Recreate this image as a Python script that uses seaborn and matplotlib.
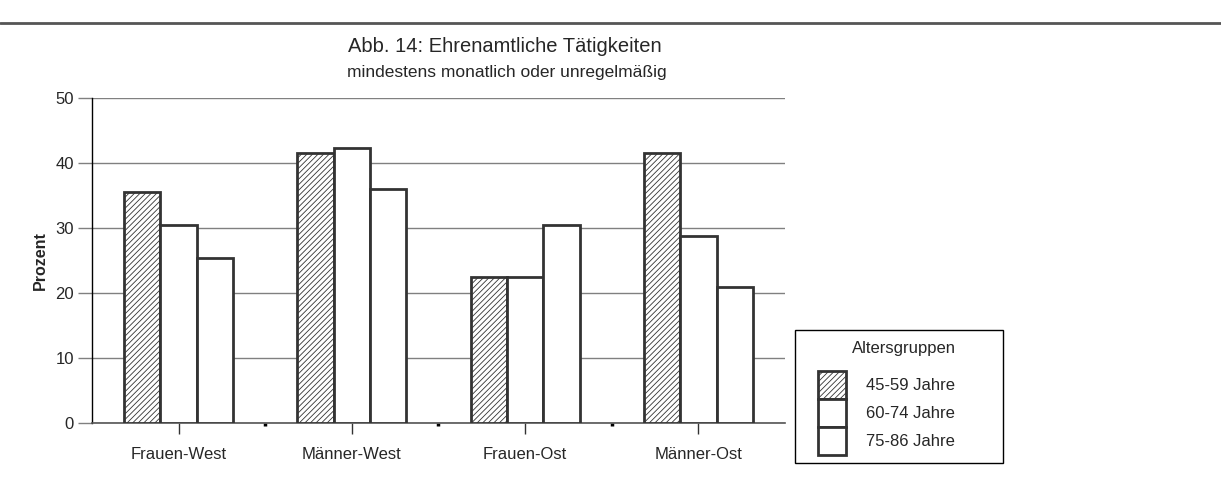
import pandas as pd
import numpy as np
import matplotlib
matplotlib.use("Agg")
import matplotlib.pyplot as plt
import seaborn as sns
from matplotlib.lines import Line2D

# ------------------ DATA ------------------
categories = ["Frauen-West", "Männer-West", "Frauen-Ost", "Männer-Ost"]
groups = ["45-59 Jahre", "60-74 Jahre", "75-86 Jahre"]
val_45_59 = [35.6, 41.6, 22.4, 41.6]
val_60_74 = [30.4, 42.3, 22.4, 28.8]
val_75_86 = [25.4, 36.0, 30.4, 20.9]

rows = []
for g, vals in zip(groups, [val_45_59, val_60_74, val_75_86]):
    for c, v in zip(categories, vals):
        rows.append([c, g, v])
df = pd.DataFrame(rows, columns=["gruppe", "alter", "prozent"])

# ------------------ STYLE ------------------
sns.set_style("white")
plt.rcParams["font.family"] = ["Liberation Sans", "DejaVu Sans"]
plt.rcParams["hatch.color"] = "#444444"
plt.rcParams["hatch.linewidth"] = 0.6

edge = "#333333"

fig = plt.figure(figsize=(12.21, 4.80), dpi=100)
ax = fig.add_axes([92 / 1221, 1 - 423 / 480, (785 - 92) / 1221, (423 - 98) / 480])

sns.barplot(data=df, x="gruppe", y="prozent", hue="alter", order=categories,
            hue_order=groups, palette=["white"] * 3, edgecolor=edge,
            linewidth=2, width=0.63, ax=ax, legend=False, zorder=3)

# hatch the first age group
n = len(categories)
for bar in ax.patches[:n]:
    bar.set_hatch("//////")

# ------------------ AXES ------------------
ax.set_ylim(0, 50)
ax.set_xlim(-0.5, n - 0.5)
ax.set_yticks([0, 10, 20, 30, 40, 50])
ax.yaxis.grid(True, color="#808080", linewidth=1)
ax.set_axisbelow(True)
for s in ["top", "right"]:
    ax.spines[s].set_visible(False)
ax.spines["bottom"].set_color("#555555")
ax.spines["bottom"].set_linewidth(1.2)
ax.spines["left"].set_color("black")
ax.spines["left"].set_linewidth(1)
ax.tick_params(axis="y", length=10, width=1, color="#808080", labelsize=12, pad=3, left=True)
ax.set_xticks(range(n))
ax.set_xticklabels(categories)
ax.set_xticks(np.arange(0.5, n - 0.5, 1), minor=True)
ax.tick_params(axis="x", which="major", length=8, width=1, color="#333333",
               labelsize=12, pad=9, bottom=True)
ax.tick_params(axis="x", which="minor", length=2, width=2.5, color="black", bottom=True)
ax.set_xlabel("")
ax.set_ylabel("Prozent", fontsize=11.5, fontweight="bold", labelpad=5)

# ------------------ TITLES ------------------
fig.text(505 / 1221, 1 - 47 / 480, "Abb. 14: Ehrenamtliche Tätigkeiten",
         ha="center", va="center", fontsize=14.5)
fig.text(507 / 1221, 1 - 72 / 480, "mindestens monatlich oder unregelmäßig",
         ha="center", va="center", fontsize=12.5)
fig.add_artist(Line2D([0, 1], [1 - 23 / 480] * 2, color="#555555", linewidth=2,
                      transform=fig.transFigure))

# ------------------ LEGEND ------------------
handles = []
for i, g in enumerate(groups):
    p = plt.Rectangle((0, 0), 1, 1, facecolor="white", edgecolor=edge,
                      linewidth=2, hatch="//////" if i == 0 else None)
    handles.append(p)
leg = fig.legend(handles, groups, title="Altersgruppen",
                 loc="upper left",
                 bbox_to_anchor=(818 / 1221, 1 - 341 / 480, (990 - 818) / 1221, 0),
                 mode="expand", frameon=False,
                 fontsize=12, title_fontsize=12,
                 handlelength=1.65, handleheight=2.2, handletextpad=1.25,
                 labelspacing=0.0, borderpad=0, borderaxespad=0)
leg._legend_box.sep = 11

# legend frame
fig.add_artist(plt.Rectangle((795 / 1221, 1 - 463 / 480), (1003 - 795) / 1221,
                             (463 - 330) / 480, transform=fig.transFigure,
                             facecolor="none", edgecolor="black", linewidth=1))

fig.savefig("out.png", dpi=100)
